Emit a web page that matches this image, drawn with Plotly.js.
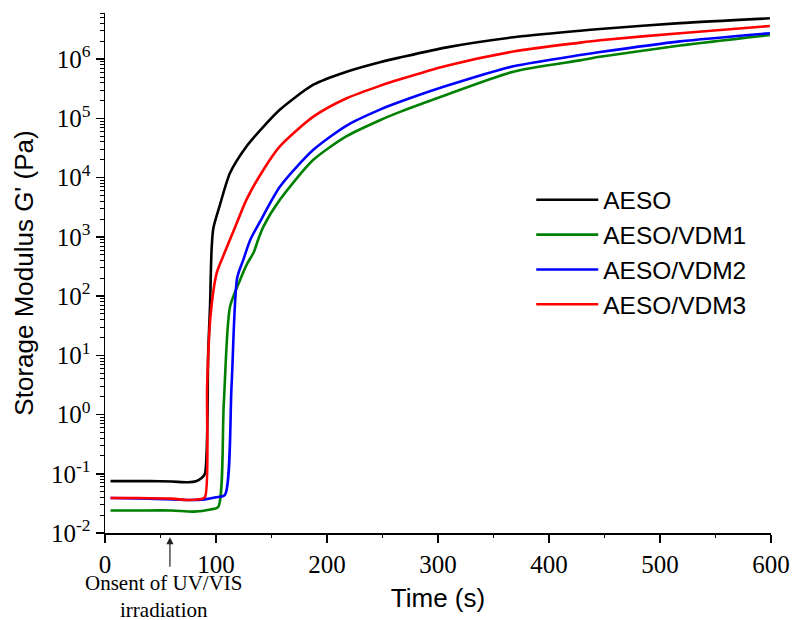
<!DOCTYPE html>
<html>
<head>
<meta charset="utf-8">
<script src="https://cdn.plot.ly/plotly-3.0.1.min.js"></script>
<style>html,body{margin:0;padding:0;background:#fff;}#chart{width:793px;height:620px;}</style>
</head>
<body>
<div id="chart"></div>
<script>
// ---- data ----
const seriesNames = ["AESO", "AESO/VDM1", "AESO/VDM2", "AESO/VDM3"];

const timeAESO = [5, 20, 40, 60, 75, 82, 87, 90, 93, 94.6, 96, 97.6, 103.6, 112.6, 127.6, 142.6, 157.7, 187.7, 217.7, 247.7, 265.8, 307.8, 367.9, 428, 446, 518, 599];
const gAESO    = [0.075, 0.075, 0.075, 0.074, 0.072, 0.075, 0.085, 0.1, 12, 66, 600, 1400, 3500, 12000, 34000, 72000, 141000, 372000, 616000, 891000, 1070000, 1585000, 2340000, 3020000, 3240000, 4070000, 4900000];

const timeVDM1 = [5, 30, 60, 80, 95, 102, 107, 112.6, 121.6, 128, 134, 138, 142.6, 157.7, 187.7, 217.7, 247.7, 265.8, 307.8, 367.9, 428, 446, 518, 599];
const gVDM1    = [0.024, 0.024, 0.024, 0.023, 0.025, 0.0275, 1.5, 66, 186, 350, 550, 900, 1480, 4270, 20000, 50100, 93300, 128800, 251200, 616000, 955000, 1096000, 1700000, 2570000];

const timeVDM2 = [5, 40, 75, 90, 100, 108, 114, 119, 124.6, 131, 139.6, 157.7, 187.7, 217.7, 247.7, 265.8, 307.8, 367.9, 428, 446, 518, 599];
const gVDM2    = [0.039, 0.038, 0.036, 0.037, 0.04, 0.044, 3, 200, 410, 900, 1800, 7100, 29500, 75900, 141000, 190500, 354800, 758600, 1175000, 1320000, 2000000, 2750000];

const timeVDM3 = [5, 30, 60, 75, 85, 90, 92, 95, 100.6, 106.6, 112.6, 118.6, 127.6, 142.6, 157.7, 187.7, 217.7, 247.7, 265.8, 307.8, 367.9, 428, 446, 518, 599];
const gVDM3    = [0.039, 0.039, 0.038, 0.036, 0.037, 0.04, 3, 45, 245, 480, 900, 1700, 4300, 13500, 34000, 107000, 218800, 354800, 457000, 776000, 1350000, 1905000, 2090000, 2750000, 3630000];

const yTickVals = [1e-2, 1e-1, 1e0, 1e1, 1e2, 1e3, 1e4, 1e5, 1e6];
const yTickText = ["10<sup>-2</sup>", "10<sup>-1</sup>", "10<sup>0</sup>", "10<sup>1</sup>", "10<sup>2</sup>", "10<sup>3</sup>", "10<sup>4</sup>", "10<sup>5</sup>", "10<sup>6</sup>"];
const xTickVals = [0, 100, 200, 300, 400, 500, 600];
const xMinorVals = [50, 150, 250, 350, 450, 550];

const colors = ["#000000", "#008000", "#0000ff", "#ff0000"];
const times = [timeAESO, timeVDM1, timeVDM2, timeVDM3];
const values = [gAESO, gVDM1, gVDM2, gVDM3];

// minor log tick positions (2..9 per decade)
const yMinor = [];
for (let e = -2; e <= 6; e++) for (let m = 2; m <= 9; m++) yMinor.push(m * Math.pow(10, e));

const traces = seriesNames.map((n, i) => ({
  x: times[i], y: values[i], name: n, type: "scatter", mode: "lines",
  line: {color: colors[i], width: 2.6, shape: "spline", smoothing: 0.7}
}));
// empty trace that anchors the overlay axes carrying the minor ticks
traces.push({x: [], y: [], xaxis: "x2", yaxis: "y2", type: "scatter", mode: "lines", showlegend: false, hoverinfo: "skip"});

const serif = "Liberation Serif";
const sans = "Liberation Sans";

const layout = {
  width: 793, height: 620,
  font: {family: serif, size: 25, color: "#000"},
  margin: {l: 105, r: 22, t: 13, b: 87},
  paper_bgcolor: "#fff", plot_bgcolor: "#fff",
  showlegend: true,
  legend: {x: 0.64, y: 0.684, xanchor: "left", yanchor: "top",
    font: {family: sans, size: 24.5, color: "#000"}, itemwidth: 62,
    bgcolor: "rgba(0,0,0,0)", tracegroupgap: 0},
  xaxis: {
    range: [0, 600], showline: true, linecolor: "#000", linewidth: 1.5,
    showgrid: false, zeroline: false,
    tickmode: "array", tickvals: xTickVals,
    ticks: "outside", ticklen: 8, tickwidth: 1.5, tickcolor: "#000",
    tickfont: {family: serif, size: 25, color: "#000"},
    title: {text: "Time (s)", font: {family: sans, size: 26, color: "#000"}, standoff: 12}
  },
  yaxis: {
    type: "log", range: [-2, 6.78], showline: true, linecolor: "#000", linewidth: 1.5,
    showgrid: false, zeroline: false,
    tickmode: "array", tickvals: yTickVals, ticktext: yTickText,
    ticks: "outside", ticklen: 8, tickwidth: 1.5, tickcolor: "#000",
    tickfont: {family: serif, size: 25, color: "#000"},
    title: {text: "Storage Modulus G' (Pa)", font: {family: sans, size: 26, color: "#000"}, standoff: 10}
  },
  xaxis2: {
    overlaying: "x", anchor: "y2", side: "bottom", range: [0, 600],
    showline: false, showgrid: false, zeroline: false, showticklabels: false,
    tickmode: "array", tickvals: xMinorVals, ticks: "outside", ticklen: 4, tickwidth: 1.2, tickcolor: "#000"
  },
  yaxis2: {
    overlaying: "y", anchor: "x2", side: "left", type: "log", range: [-2, 6.78],
    showline: false, showgrid: false, zeroline: false, showticklabels: false,
    tickmode: "array", tickvals: yMinor, ticks: "outside", ticklen: 4, tickwidth: 1, tickcolor: "#000"
  },
  annotations: [
    {xref: "x", yref: "paper", x: 58.5, y: -0.008, ax: 0, ay: 31, text: "",
     showarrow: true, arrowhead: 2, arrowsize: 1.2, arrowwidth: 1.2, arrowcolor: "#222"},
    {xref: "x", yref: "paper", x: 53.5, y: -0.122, xanchor: "center", yanchor: "middle",
     text: "Onsent of UV/VIS<br>irradiation", showarrow: false,
     font: {family: serif, size: 21, color: "#000"}}
  ]
};

Plotly.newPlot("chart", traces, layout, {staticPlot: true, displayModeBar: false});
</script>
</body>
</html>
